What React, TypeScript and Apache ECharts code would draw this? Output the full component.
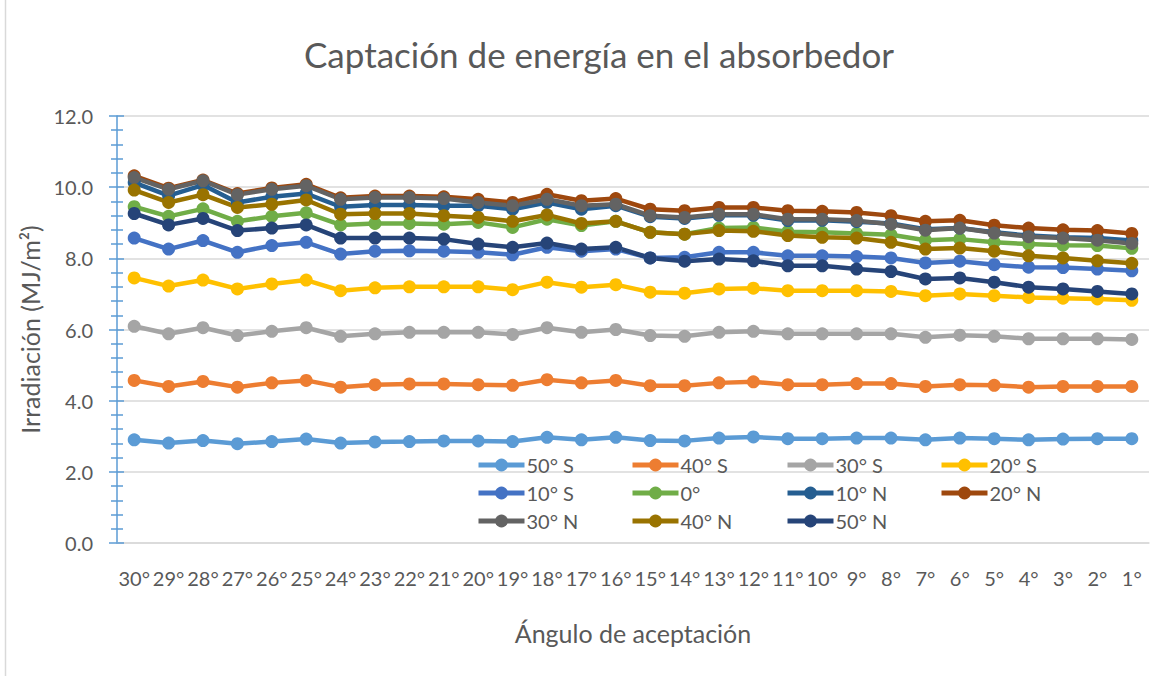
import React, { useEffect, useRef } from "react";
import * as echarts from "echarts";

const categories = ["30°","29°","28°","27°","26°","25°","24°","23°","22°","21°","20°","19°","18°","17°","16°","15°","14°","13°","12°","11°","10°","9°","8°","7°","6°","5°","4°","3°","2°","1°"];

const s50S = [2.90,2.81,2.88,2.79,2.85,2.92,2.81,2.84,2.85,2.87,2.87,2.85,2.97,2.90,2.97,2.88,2.87,2.95,2.98,2.93,2.93,2.95,2.95,2.90,2.95,2.93,2.90,2.92,2.93,2.93];
const s40S = [4.57,4.40,4.54,4.38,4.50,4.57,4.38,4.45,4.47,4.47,4.45,4.43,4.59,4.50,4.57,4.42,4.42,4.50,4.53,4.45,4.45,4.48,4.48,4.40,4.45,4.43,4.38,4.40,4.40,4.40];
const s30S = [6.09,5.88,6.05,5.83,5.95,6.05,5.81,5.88,5.92,5.92,5.92,5.86,6.05,5.92,6.00,5.83,5.81,5.92,5.95,5.88,5.88,5.88,5.88,5.78,5.84,5.81,5.74,5.74,5.74,5.72];
const s20S = [7.45,7.22,7.39,7.14,7.28,7.39,7.09,7.17,7.20,7.20,7.20,7.12,7.33,7.19,7.26,7.05,7.02,7.14,7.16,7.09,7.09,7.09,7.07,6.95,7.00,6.95,6.90,6.88,6.86,6.82];
const s10S = [8.57,8.26,8.50,8.17,8.36,8.45,8.12,8.20,8.21,8.20,8.17,8.10,8.31,8.20,8.26,8.01,8.03,8.17,8.17,8.07,8.07,8.05,8.01,7.87,7.92,7.82,7.75,7.74,7.70,7.65];
const s0 = [9.45,9.18,9.39,9.04,9.18,9.28,8.94,8.98,8.98,8.96,9.01,8.87,9.10,8.92,9.04,8.73,8.68,8.85,8.87,8.75,8.73,8.70,8.66,8.51,8.54,8.45,8.40,8.37,8.36,8.28];
const s10N = [10.13,9.76,10.06,9.57,9.73,9.82,9.45,9.50,9.50,9.48,9.48,9.38,9.57,9.38,9.48,9.17,9.12,9.21,9.21,9.06,9.07,9.03,8.98,8.82,8.85,8.73,8.64,8.59,8.57,8.50];
const s20N = [10.32,9.97,10.20,9.82,9.98,10.08,9.70,9.75,9.75,9.73,9.66,9.57,9.80,9.62,9.68,9.38,9.34,9.43,9.43,9.34,9.32,9.29,9.20,9.04,9.07,8.93,8.85,8.80,8.78,8.70];
const s30N = [10.27,9.94,10.18,9.79,9.94,10.04,9.66,9.71,9.71,9.68,9.57,9.48,9.66,9.48,9.52,9.20,9.15,9.24,9.24,9.10,9.10,9.06,8.96,8.79,8.85,8.71,8.61,8.57,8.51,8.42];
const s40N = [9.92,9.57,9.79,9.43,9.52,9.64,9.24,9.26,9.26,9.20,9.15,9.04,9.22,8.98,9.04,8.73,8.68,8.78,8.76,8.64,8.59,8.57,8.45,8.26,8.29,8.20,8.07,8.01,7.93,7.86];
const s50N = [9.26,8.94,9.12,8.78,8.85,8.94,8.57,8.57,8.57,8.54,8.40,8.31,8.43,8.26,8.31,8.01,7.92,7.98,7.93,7.79,7.79,7.70,7.63,7.42,7.45,7.33,7.19,7.14,7.07,7.00];

const seriesNames = ["50° S","40° S","30° S","20° S","10° S","0°","10° N","20° N","30° N","40° N","50° N"];
const seriesData = [s50S,s40S,s30S,s20S,s10S,s0,s10N,s20N,s30N,s40N,s50N];
const seriesColors = ["#5B9BD5","#ED7D31","#A5A5A5","#FFC000","#4472C4","#70AD47","#255E91","#9E480E","#636363","#997300","#264478"];

const FONT = "Lato, 'Liberation Sans', sans-serif";
const TXT = "#595959";

export default function App() {
  const ref = useRef<HTMLDivElement>(null);
  useEffect(() => {
    if (!ref.current) return;
    const chart = echarts.init(ref.current, null, { renderer: "svg" });
    const colX = [476, 630, 785, 939];
    const rowY = [455, 483, 511];
    const legends = seriesNames.map((n, i) => ({
      data: [n],
      left: colX[i % 4],
      top: rowY[Math.floor(i / 4)],
      padding: 0,
      itemGap: 0,
      itemWidth: 46,
      itemHeight: 16,
      lineStyle: { width: 5 },
      textStyle: { color: TXT, fontSize: 20, fontFamily: FONT, padding: [0, 0, 0, -3] },
    }));
    const yCommon = {
      type: "value",
      min: 0,
      max: 12,
      interval: 2,
      position: "left",
    };
    chart.setOption({
      animation: false,
      backgroundColor: "#ffffff",
      title: {
        text: "Captación de energía en el absorbedor",
        left: 594,
        textAlign: "center",
        top: 31,
        textStyle: { color: TXT, fontSize: 35, fontWeight: "normal", fontFamily: FONT },
      },
      legend: legends,
      grid: { left: 117, right: 27, top: 116, bottom: 133, containLabel: false },
      xAxis: {
        type: "category",
        data: categories,
        boundaryGap: true,
        axisLine: { lineStyle: { color: "#D9D9D9", width: 1.5 } },
        axisTick: { show: false },
        axisLabel: { interval: 0, color: TXT, fontSize: 20, fontFamily: FONT, margin: 25 },
        name: "Ángulo de aceptación",
        nameLocation: "middle",
        nameGap: 77,
        nameTextStyle: { color: TXT, fontSize: 25, fontFamily: FONT },
      },
      yAxis: [
        {
          ...yCommon,
          axisLine: { show: true, lineStyle: { color: "#5B9BD5", width: 1.5 } },
          axisTick: { show: true, inside: false, length: 8, lineStyle: { color: "#5B9BD5", width: 1.5 } },
          minorTick: { show: true, splitNumber: 5, length: 6, lineStyle: { color: "#5B9BD5", width: 1.5 } },
          splitLine: { show: true, lineStyle: { color: "#D9D9D9", width: 1.5 } },
          axisLabel: { color: TXT, fontSize: 20, fontFamily: FONT, margin: 24, formatter: (v: number) => v.toFixed(1) },
          name: "Irradiación (MJ/m²)",
          nameLocation: "middle",
          nameGap: 67,
          nameTextStyle: { color: TXT, fontSize: 25, fontFamily: FONT },
        },
        {
          ...yCommon,
          axisLine: { show: false },
          axisTick: { show: true, inside: true, length: 7, lineStyle: { color: "#5B9BD5", width: 1.5 } },
          minorTick: { show: true, splitNumber: 5, length: 6, lineStyle: { color: "#5B9BD5", width: 1.5 } },
          splitLine: { show: false },
          axisLabel: { show: false },
        },
      ],
      graphic: [
        {
          type: "line",
          shape: { x1: 5.5, y1: 0, x2: 5.5, y2: 676 },
          style: { stroke: "#D9D9D9", lineWidth: 1.5 },
        },
      ],
      series: seriesNames.map((n, i) => ({
        name: n,
        type: "line",
        yAxisIndex: 0,
        data: seriesData[i],
        symbol: "circle",
        symbolSize: 13,
        showSymbol: true,
        color: seriesColors[i],
        lineStyle: { width: 4.5, color: seriesColors[i] },
        itemStyle: { color: seriesColors[i] },
      })),
    });
    return () => chart.dispose();
  }, []);
  return (
    <div
      ref={ref}
      style={{ position: "fixed", left: 0, top: 0, width: 1176, height: 676, background: "#fff" }}
    />
  );
}
